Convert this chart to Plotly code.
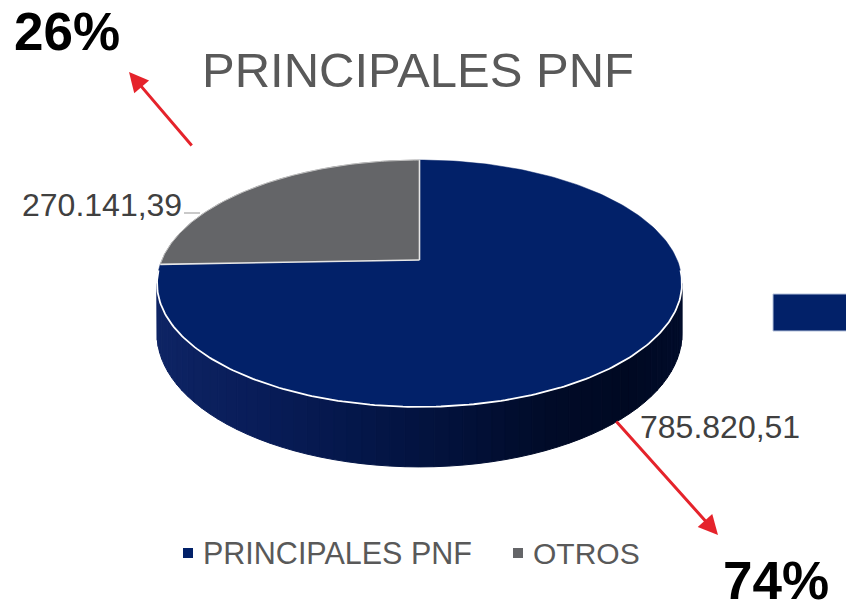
import numpy as np
import plotly.graph_objects as go

# ---------------- data ----------------
categories = ["PRINCIPALES PNF", "OTROS"]
values = [785820.51, 270141.39]
value_labels = ["785.820,51", "270.141,39"]
slice_colors = ["#022169", "#646568"]
title_text = "PRINCIPALES PNF"

total = sum(values)
shares = [v / total for v in values]
pct_labels = [f"{round(s * 100)}%" for s in shares]

# ---------------- geometry of the tilted (3D-looking) pie ----------------
W, Hgt = 846, 606
CX, CY = 419.5, 260.0      # centre of top face
A, B = 257.7, 119.0        # radii before perspective
P = 0.19                   # perspective strength
DEPTH = 48.6               # thickness of the pie

def proj(theta_deg, drop=0.0):
    t = np.radians(theta_deg)
    s = 1.0 / (1.0 + P * np.sin(t))
    x = CX + A * np.cos(t) * s
    y = CY - B * np.sin(t) * s + drop * s
    return x, y

# slice angular ranges (start at 12 o'clock, clockwise)
ranges = []
start = 90.0
for sh in shares:
    end = start - sh * 360.0
    ranges.append((end, start))
    start = end

# visible front wall range (silhouette points)
sil = np.degrees(np.arcsin(P))
vis_lo, vis_hi = -180.0 + sil, -sil

# wall shading stops (horizontal position -> colour)
stops_u = [0.0, 0.2, 0.4, 0.6, 0.75, 0.9, 1.0]
stops_navy = [(14, 36, 100), (8, 28, 88), (4, 22, 72), (2, 16, 55), (1, 11, 40), (0, 9, 34), (1, 12, 42)]

def hex2rgb(h):
    h = h.lstrip("#")
    return tuple(int(h[i:i + 2], 16) for i in (0, 2, 4))

base_navy = hex2rgb(slice_colors[0])

def wall_color(u, base):
    r = [np.interp(u, stops_u, [c[k] for c in stops_navy]) for k in range(3)]
    f = [r[k] / max(base_navy[k], 1) for k in range(3)]
    col = [min(255, int(round(base[k] * f[k] if base_navy[k] > 0 else r[k]))) for k in range(3)]
    return "rgb({},{},{})".format(*col)

fig = go.Figure()

xmin = CX - A * 1.02
xmax = CX + A * 1.02

# ---- side walls ----
for i, (lo, hi) in enumerate(ranges):
    base = hex2rgb(slice_colors[i])
    for shift in (-360.0, 0.0, 360.0):
        a0 = max(lo + shift, vis_lo)
        a1 = min(hi + shift, vis_hi)
        if a1 <= a0:
            continue
        n = 60
        edges = np.linspace(a0, a1, n + 1)
        for j in range(n):
            th = np.linspace(edges[j], edges[j + 1], 6)
            xt, yt = proj(th)
            xb, yb = proj(th[::-1], DEPTH)
            xs = np.concatenate([xt, xb, xt[:1]])
            ys = np.concatenate([yt, yb, yt[:1]])
            u = (np.mean(xt) - xmin) / (xmax - xmin)
            c = wall_color(float(np.clip(u, 0, 1)), base)
            fig.add_trace(go.Scatter(x=xs, y=ys, mode="lines", fill="toself",
                                     fillcolor=c, line=dict(color=c, width=1),
                                     hoverinfo="skip", showlegend=False))

# ---- top faces ----
for i, (lo, hi) in enumerate(ranges):
    th = np.linspace(hi, lo, 240)
    x, y = proj(th)
    xs = np.concatenate([[CX], x, [CX]])
    ys = np.concatenate([[CY], y, [CY]])
    fig.add_trace(go.Scatter(x=xs, y=ys, mode="lines", fill="toself",
                             fillcolor=slice_colors[i],
                             line=dict(color=slice_colors[i], width=0.5),
                             name=categories[i], hoverinfo="name",
                             showlegend=False))

# radial separators
for (lo, hi) in ranges:
    x, y = proj(np.array([hi]))
    fig.add_trace(go.Scatter(x=[CX, x[0]], y=[CY, y[0]], mode="lines",
                             line=dict(color="#e6e6e6", width=1.6),
                             hoverinfo="skip", showlegend=False))

# outline of the grey slice arc
lo, hi = ranges[1]
th = np.linspace(hi, lo, 120)
x, y = proj(th)
fig.add_trace(go.Scatter(x=x, y=y, mode="lines", line=dict(color="#bfbfbf", width=1),
                         hoverinfo="skip", showlegend=False))

# white highlight along the front edge of the top face
th = np.linspace(vis_lo - 6, vis_hi + 6, 200)
x, y = proj(th)
fig.add_trace(go.Scatter(x=x, y=y, mode="lines", line=dict(color="#ffffff", width=1.8),
                         hoverinfo="skip", showlegend=False))

# ---------------- annotations ----------------
FONT = "Liberation Sans, Arial, sans-serif"
ann = []
ann.append(dict(x=418, y=70, text=title_text, showarrow=False,
                font=dict(family=FONT, size=49, color="#595959"),
                xanchor="center", yanchor="middle"))
ann.append(dict(x=20, y=205, text=value_labels[1], showarrow=False,
                font=dict(family=FONT, size=32, color="#404040"),
                xanchor="left", yanchor="middle"))
ann.append(dict(x=638, y=427, text=value_labels[0], showarrow=False,
                font=dict(family=FONT, size=32, color="#404040"),
                xanchor="left", yanchor="middle"))
ann.append(dict(x=67, y=31, text="<b>" + pct_labels[1] + "</b>", showarrow=False,
                font=dict(family=FONT, size=53, color="#000000"),
                xanchor="center", yanchor="middle"))
ann.append(dict(x=776, y=580, text="<b>" + pct_labels[0] + "</b>", showarrow=False,
                font=dict(family=FONT, size=53, color="#000000"),
                xanchor="center", yanchor="middle"))
ann.append(dict(x=129, y=72, ax=193, ay=147, xref="x", yref="y", axref="x", ayref="y",
                text="", showarrow=True, arrowhead=2, arrowsize=1.3, arrowwidth=3,
                arrowcolor="#e5232b"))
ann.append(dict(x=718, y=535, ax=615, ay=420, xref="x", yref="y", axref="x", ayref="y",
                text="", showarrow=True, arrowhead=2, arrowsize=1.3, arrowwidth=3,
                arrowcolor="#e5232b"))
ann.append(dict(x=201, y=553, text=categories[0], showarrow=False,
                font=dict(family=FONT, size=30.5, color="#595959"),
                xanchor="left", yanchor="middle"))
ann.append(dict(x=531, y=553, text=categories[1], showarrow=False,
                font=dict(family=FONT, size=30, color="#595959"),
                xanchor="left", yanchor="middle"))

shapes = [
    dict(type="rect", x0=183, x1=193, y0=548, y1=558, xref="x", yref="y",
         fillcolor=slice_colors[0], line=dict(width=0)),
    dict(type="rect", x0=513, x1=523, y0=548, y1=558, xref="x", yref="y",
         fillcolor=slice_colors[1], line=dict(width=0)),
    dict(type="line", x0=184, x1=200, y0=213, y1=213, xref="x", yref="y",
         line=dict(color="#a6a6a6", width=1.2)),
    dict(type="rect", x0=773, x1=850, y0=294, y1=331, xref="x", yref="y",
         fillcolor=slice_colors[0], line=dict(color="#b4c2dc", width=1)),
]

fig.update_layout(
    width=W, height=Hgt, autosize=False,
    margin=dict(l=0, r=0, t=0, b=0),
    paper_bgcolor="white", plot_bgcolor="white",
    showlegend=False,
    xaxis=dict(range=[0, W], visible=False, fixedrange=True),
    yaxis=dict(range=[Hgt, 0], visible=False, fixedrange=True),
    annotations=ann, shapes=shapes,
)

fig.write_html(
    "out.html",
    config={"displayModeBar": False},
    post_script="document.body.style.margin='0';document.body.style.overflow='hidden';",
)
